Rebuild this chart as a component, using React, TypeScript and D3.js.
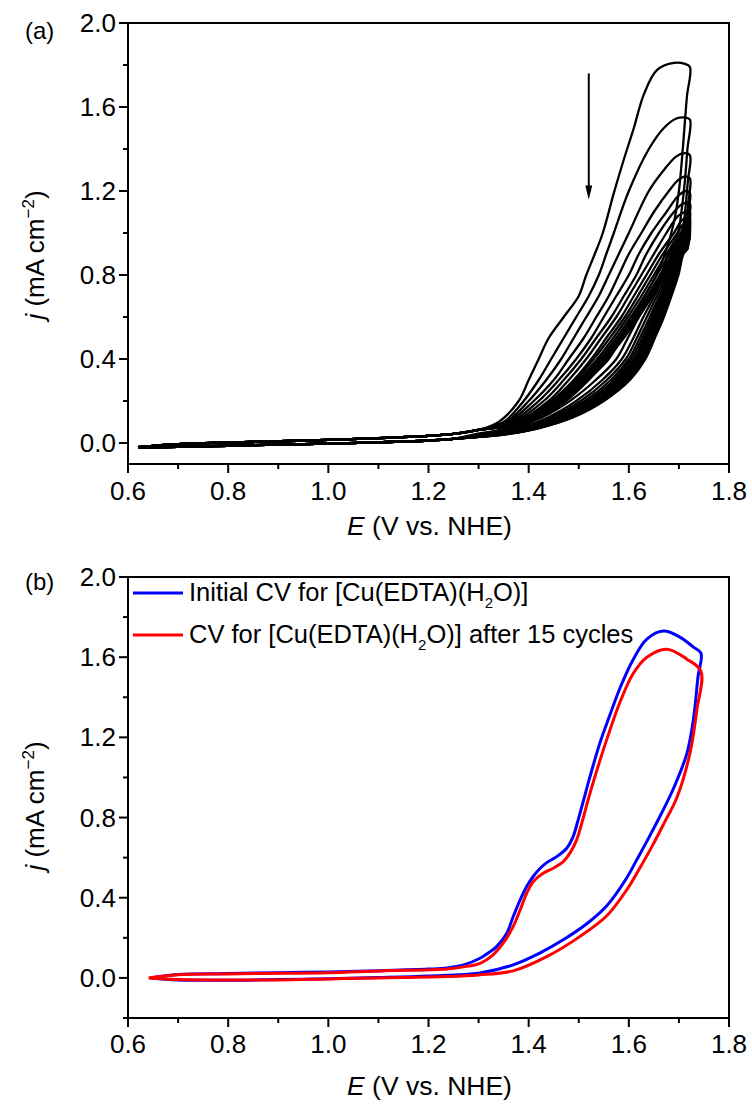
import React from 'react';
import * as d3 from 'd3';

type P = [number, number];

// ---------- axis ticks ----------
const xMajor = [0.6, 0.8, 1.0, 1.2, 1.4, 1.6, 1.8];
const xMinor = [0.7, 0.9, 1.1, 1.3, 1.5, 1.7];
const yMajor = [0.0, 0.4, 0.8, 1.2, 1.6, 2.0];
const yMinorA = [0.2, 0.6, 1.0, 1.4, 1.8];
const yMinorB = [-0.2, 0.2, 0.6, 1.0, 1.4, 1.8];
const yDomainA: P = [-0.1, 2.0];
const yDomainB: P = [-0.2, 2.0];
const xDomain: P = [0.6, 1.8];

// ---------- panel (a): 15 successive CV cycles ----------
const baseFwd: P[] = [[0.62, -0.02], [0.70, -0.006], [0.80, 0.002], [0.90, 0.008], [1.00, 0.015], [1.10, 0.023], [1.20, 0.034], [1.25, 0.043], [1.30, 0.062]];
const baseRev: P[] = [[1.25, 0.02], [1.20, 0.012], [1.10, 0.003], [1.00, -0.003], [0.90, -0.008], [0.80, -0.013], [0.70, -0.018], [0.62, -0.022]];

const fwdLevels = [0.1, 0.2, 0.3, 0.4, 0.5, 0.6, 0.7, 0.8, 0.9, 1.0];
const cycleFwdE: number[][] = [
  [1.34, 1.38, 1.40, 1.42, 1.44, 1.47, 1.50, 1.515, 1.532, 1.548],
  [1.35, 1.39, 1.42, 1.445, 1.47, 1.495, 1.52, 1.54, 1.555, 1.57],
  [1.355, 1.40, 1.435, 1.465, 1.49, 1.515, 1.54, 1.56, 1.58, 1.60],
  [1.36, 1.41, 1.45, 1.48, 1.51, 1.535, 1.56, 1.58, 1.60, 1.625],
  [1.365, 1.42, 1.46, 1.495, 1.525, 1.55, 1.575, 1.60, 1.62, 1.645],
  [1.37, 1.43, 1.47, 1.505, 1.535, 1.565, 1.59, 1.615, 1.635, 1.66],
  [1.375, 1.44, 1.48, 1.515, 1.545, 1.575, 1.60, 1.625, 1.65, 1.675],
  [1.38, 1.445, 1.49, 1.525, 1.555, 1.585, 1.61, 1.635, 1.66, 1.69],
  [1.383, 1.45, 1.495, 1.53, 1.562, 1.592, 1.618, 1.643, 1.668, 1.697],
  [1.386, 1.455, 1.50, 1.537, 1.569, 1.598, 1.625, 1.65, 1.675, 1.703],
  [1.389, 1.46, 1.505, 1.542, 1.575, 1.604, 1.631, 1.656, 1.681, 1.708],
  [1.392, 1.465, 1.51, 1.547, 1.58, 1.61, 1.637, 1.662, 1.687, 1.712],
  [1.395, 1.468, 1.514, 1.551, 1.584, 1.614, 1.641, 1.666, 1.691, 1.716],
  [1.398, 1.471, 1.517, 1.554, 1.587, 1.617, 1.644, 1.669, 1.695],
  [1.40, 1.474, 1.52, 1.557, 1.59, 1.62, 1.647, 1.672, 1.698],
];
const cycleTurn: P[][] = [
  [[1.57, 1.19], [1.59, 1.35], [1.61, 1.50], [1.63, 1.66], [1.656, 1.776], [1.69, 1.81], [1.712, 1.805], [1.722, 1.79], [1.716, 1.65], [1.711, 1.5], [1.706, 1.35], [1.70, 1.2], [1.69, 1.05]],
  [[1.60, 1.20], [1.64, 1.40], [1.67, 1.50], [1.695, 1.545], [1.712, 1.55], [1.722, 1.54], [1.717, 1.40], [1.712, 1.25], [1.706, 1.12], [1.698, 1.00]],
  [[1.64, 1.20], [1.67, 1.30], [1.695, 1.365], [1.712, 1.38], [1.722, 1.37], [1.718, 1.25], [1.713, 1.12], [1.706, 1.00]],
  [[1.65, 1.10], [1.68, 1.20], [1.70, 1.255], [1.714, 1.27], [1.722, 1.26], [1.719, 1.15], [1.714, 1.05], [1.707, 0.96]],
  [[1.675, 1.10], [1.70, 1.18], [1.715, 1.20], [1.722, 1.19], [1.719, 1.10], [1.714, 1.01], [1.706, 0.95]],
  [[1.69, 1.10], [1.708, 1.14], [1.722, 1.14], [1.719, 1.06], [1.713, 0.98]],
  [[1.698, 1.08], [1.712, 1.10], [1.722, 1.10], [1.719, 1.03], [1.713, 0.96]],
  [[1.708, 1.065], [1.722, 1.07], [1.719, 1.01], [1.714, 0.95]],
  [[1.712, 1.05], [1.722, 1.05], [1.719, 0.99], [1.715, 0.94]],
  [[1.714, 1.035], [1.722, 1.035], [1.719, 0.98], [1.715, 0.935]],
  [[1.716, 1.02], [1.722, 1.02], [1.719, 0.97], [1.716, 0.93]],
  [[1.722, 1.01], [1.719, 0.965], [1.716, 0.93]],
  [[1.722, 1.0], [1.719, 0.96], [1.716, 0.925]],
  [[1.712, 0.97], [1.722, 0.99], [1.719, 0.955], [1.717, 0.925]],
  [[1.714, 0.96], [1.722, 0.98], [1.719, 0.95], [1.717, 0.925]],
];
const revLevels = [0.9, 0.8, 0.7, 0.6, 0.5, 0.4, 0.3, 0.2, 0.12, 0.07, 0.04];
const cycleRevE: number[][] = [
  [1.672, 1.655, 1.632, 1.607, 1.585, 1.560, 1.517, 1.465, 1.410, 1.355, 1.290],
  [1.679, 1.664, 1.643, 1.620, 1.598, 1.575, 1.534, 1.482, 1.425, 1.368, 1.302],
  [1.685, 1.670, 1.651, 1.629, 1.609, 1.586, 1.547, 1.495, 1.437, 1.378, 1.311],
  [1.689, 1.675, 1.656, 1.636, 1.616, 1.594, 1.556, 1.504, 1.445, 1.385, 1.318],
  [1.692, 1.679, 1.661, 1.642, 1.622, 1.600, 1.564, 1.512, 1.452, 1.391, 1.323],
  [1.695, 1.682, 1.665, 1.646, 1.627, 1.605, 1.570, 1.518, 1.458, 1.395, 1.327],
  [1.697, 1.685, 1.668, 1.650, 1.631, 1.610, 1.575, 1.523, 1.462, 1.399, 1.331],
  [1.699, 1.687, 1.671, 1.653, 1.634, 1.613, 1.579, 1.527, 1.466, 1.402, 1.334],
  [1.701, 1.689, 1.673, 1.656, 1.637, 1.617, 1.583, 1.531, 1.470, 1.406, 1.337],
  [1.702, 1.691, 1.675, 1.659, 1.640, 1.620, 1.587, 1.535, 1.473, 1.408, 1.339],
  [1.704, 1.693, 1.678, 1.661, 1.643, 1.623, 1.590, 1.538, 1.476, 1.411, 1.342],
  [1.705, 1.695, 1.680, 1.664, 1.645, 1.626, 1.594, 1.542, 1.479, 1.414, 1.344],
  [1.706, 1.696, 1.681, 1.666, 1.647, 1.628, 1.596, 1.544, 1.482, 1.415, 1.346],
  [1.708, 1.697, 1.683, 1.668, 1.650, 1.630, 1.599, 1.547, 1.484, 1.418, 1.348],
  [1.709, 1.699, 1.685, 1.670, 1.652, 1.633, 1.602, 1.550, 1.487, 1.420, 1.350],
];
// arrow: potential, start current, end current
const arrowE = 1.52;
const arrowJ: P = [1.76, 1.16];

// ---------- panel (b) ----------
const blueCV: P[] = [
  [0.645, 0.0], [0.70, 0.017], [0.80, 0.022], [0.90, 0.026], [1.00, 0.03], [1.10, 0.036], [1.20, 0.044], [1.237, 0.05], [1.27, 0.065],
  [1.303, 0.098], [1.323, 0.131], [1.336, 0.156], [1.356, 0.222], [1.369, 0.305], [1.383, 0.389], [1.396, 0.456], [1.409, 0.506],
  [1.423, 0.547], [1.436, 0.575], [1.456, 0.605], [1.476, 0.647], [1.488, 0.70], [1.499, 0.79], [1.51, 0.89], [1.522, 1.0],
  [1.542, 1.17], [1.562, 1.31], [1.583, 1.45], [1.609, 1.59], [1.636, 1.69], [1.669, 1.73], [1.702, 1.70], [1.729, 1.65], [1.744, 1.62],
  [1.738, 1.50], [1.729, 1.29], [1.716, 1.12], [1.69, 0.95], [1.665, 0.82], [1.64, 0.70], [1.616, 0.59], [1.596, 0.50], [1.556, 0.36],
  [1.516, 0.27], [1.469, 0.19], [1.423, 0.125], [1.369, 0.065], [1.303, 0.025], [1.20, 0.01], [1.10, 0.002], [1.00, -0.004],
  [0.90, -0.008], [0.80, -0.012], [0.70, -0.01], [0.645, 0.0],
];
const redCV: P[] = [
  [0.641, 0.0], [0.70, 0.016], [0.80, 0.02], [0.90, 0.023], [1.00, 0.026], [1.103, 0.035], [1.237, 0.045], [1.27, 0.055], [1.303, 0.073],
  [1.329, 0.115], [1.349, 0.173], [1.369, 0.256], [1.383, 0.339], [1.396, 0.422], [1.409, 0.48], [1.429, 0.522], [1.449, 0.547],
  [1.469, 0.58], [1.483, 0.625], [1.496, 0.69], [1.508, 0.79], [1.52, 0.9], [1.533, 1.01], [1.556, 1.19], [1.583, 1.38], [1.609, 1.52],
  [1.636, 1.60], [1.676, 1.64], [1.716, 1.59], [1.744, 1.53],
  [1.736, 1.34], [1.722, 1.12], [1.696, 0.90], [1.67, 0.77], [1.645, 0.65], [1.62, 0.54], [1.596, 0.44], [1.556, 0.31],
  [1.502, 0.206], [1.436, 0.106], [1.369, 0.035], [1.30, 0.015], [1.237, 0.007], [1.10, 0.0], [1.00, -0.005], [0.90, -0.01],
  [0.80, -0.01], [0.70, -0.008], [0.641, 0.0],
];
const legendLabels = ['Initial CV for [Cu(EDTA)(H', 'CV for [Cu(EDTA)(H'];
const legendTails = ['O)]', 'O)] after 15 cycles'];
const seriesColors = ['#0000ff', '#ff0000'];

const FONT = '"Liberation Sans", Arial, Helvetica, sans-serif';
const fmt = d3.format('.1f');

function buildCycle(k: number): P[] {
  const fwd: P[] = cycleFwdE[k].map((e, i) => [e, fwdLevels[i]] as P);
  const rev: P[] = cycleRevE[k].map((e, i) => [e, revLevels[i]] as P);
  return [...baseFwd, ...fwd, ...cycleTurn[k], ...rev, ...baseRev];
}

function Frame(props: {
  x: d3.ScaleLinear<number, number>;
  y: d3.ScaleLinear<number, number>;
  yMinor: number[];
  tickBase: number;
  titleBase: number;
  yTitleMid: number;
  label: string;
  labelBase: number;
}) {
  const { x, y, yMinor, tickBase, titleBase, yTitleMid, label, labelBase } = props;
  const [x0, x1] = x.range();
  const [yb, yt] = y.range();
  return (
    <g fontFamily={FONT} fill="#000">
      <rect x={x0} y={yt} width={x1 - x0} height={yb - yt} fill="none" stroke="#000" strokeWidth={2} />
      {xMajor.map((v) => (
        <g key={'xM' + v}>
          <line x1={x(v)} x2={x(v)} y1={yb} y2={yb + 9} stroke="#000" strokeWidth={2} />
          <text x={x(v)} y={tickBase} textAnchor="middle" fontSize={26}>{fmt(v)}</text>
        </g>
      ))}
      {xMinor.map((v) => (
        <line key={'xm' + v} x1={x(v)} x2={x(v)} y1={yb} y2={yb + 5} stroke="#000" strokeWidth={2} />
      ))}
      {yMajor.map((v) => (
        <g key={'yM' + v}>
          <line x1={x0 - 9} x2={x0} y1={y(v)} y2={y(v)} stroke="#000" strokeWidth={2} />
          <text x={x0 - 12} y={y(v) + 9} textAnchor="end" fontSize={26}>{fmt(v)}</text>
        </g>
      ))}
      {yMinor.map((v) => (
        <line key={'ym' + v} x1={x0 - 5} x2={x0} y1={y(v)} y2={y(v)} stroke="#000" strokeWidth={2} />
      ))}
      <text x={(x0 + x1) / 2 + 1} y={titleBase} textAnchor="middle" fontSize={26.5}>
        <tspan fontStyle="italic">E</tspan>{' (V vs. NHE)'}
      </text>
      <text transform={`translate(44, ${yTitleMid}) rotate(-90)`} textAnchor="middle" fontSize={26}>
        <tspan fontStyle="italic">j</tspan>{' (mA cm'}
        <tspan dy={-10} fontSize={17}>−2</tspan>
        <tspan dy={10}>)</tspan>
      </text>
      <text x={25} y={labelBase} fontSize={24}>{label}</text>
    </g>
  );
}

export default function App() {
  const x = d3.scaleLinear().domain(xDomain).range([128, 729]);
  const yA = d3.scaleLinear().domain(yDomainA).range([464, 23]);
  const yB = d3.scaleLinear().domain(yDomainB).range([1018, 577]);

  const lineA = d3.line<P>().x((d) => x(d[0])).y((d) => yA(d[1])).curve(d3.curveCatmullRom.alpha(0.5));
  const lineB = d3.line<P>().x((d) => x(d[0])).y((d) => yB(d[1])).curve(d3.curveCatmullRom.alpha(0.5));

  const cycles = cycleFwdE.map((_, k) => buildCycle(k));
  const ax = x(arrowE);
  const ay0 = yA(arrowJ[0]);
  const ay1 = yA(arrowJ[1]);

  return (
    <svg width={752} height={1106} viewBox="0 0 752 1106"
      style={{ position: 'absolute', left: 0, top: 0, background: '#fff' }}>
      <rect width={752} height={1106} fill="#fff" />
      {/* panel a */}
      <Frame x={x} y={yA} yMinor={yMinorA} tickBase={500} titleBase={535} yTitleMid={255} label="(a)" labelBase={39} />
      <g fill="none" stroke="#000" strokeWidth={2.3} strokeLinejoin="round">
        {cycles.map((c, k) => <path key={'c' + k} d={lineA(c) || ''} />)}
      </g>
      <line x1={ax} x2={ax} y1={ay0} y2={ay1 - 10} stroke="#000" strokeWidth={2} />
      <polygon points={`${ax - 3.5},${ay1 - 14} ${ax + 3.5},${ay1 - 14} ${ax},${ay1}`} fill="#000" />

      {/* panel b */}
      <Frame x={x} y={yB} yMinor={yMinorB} tickBase={1053} titleBase={1095} yTitleMid={806} label="(b)" labelBase={590} />
      <g fill="none" strokeWidth={3} strokeLinejoin="round">
        <path d={lineB(blueCV) || ''} stroke={seriesColors[0]} />
        <path d={lineB(redCV) || ''} stroke={seriesColors[1]} />
      </g>
      <g fontFamily={FONT} fontSize={25.5} fill="#000">
        {legendLabels.map((lab, i) => {
          const ly = 593 + i * 42;
          return (
            <g key={'lg' + i}>
              <line x1={133} x2={183} y1={ly} y2={ly} stroke={seriesColors[i]} strokeWidth={3} />
              <text x={189} y={ly + 8}>
                {lab}
                <tspan dy={7} fontSize={15}>2</tspan>
                <tspan dy={-7}>{legendTails[i]}</tspan>
              </text>
            </g>
          );
        })}
      </g>
    </svg>
  );
}
